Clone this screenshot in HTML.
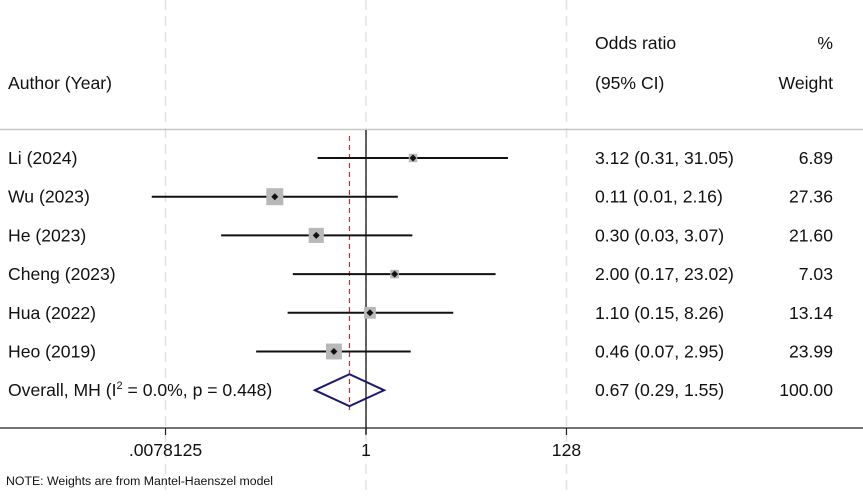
<!DOCTYPE html>
<html><head><meta charset="utf-8"><style>
body{margin:0;background:#fff}
svg text{font-family:"Liberation Sans",Arial,sans-serif;fill:#111}
</style></head><body>
<svg width="863" height="491" id="c">
</svg>
<script>
const authors=["Li (2024)","Wu (2023)","He (2023)","Cheng (2023)","Hua (2022)","Heo (2019)"];
const ors=[3.12,0.11,0.30,2.00,1.10,0.46];
const lows=[0.31,0.0056,0.03,0.17,0.15,0.07];
const highs=[31.05,2.16,3.07,23.02,8.26,2.95];
const ciText=["3.12 (0.31, 31.05)","0.11 (0.01, 2.16)","0.30 (0.03, 3.07)","2.00 (0.17, 23.02)","1.10 (0.15, 8.26)","0.46 (0.07, 2.95)"];
const weights=[6.89,27.36,21.60,7.03,13.14,23.99];
const overall=[0.67,0.29,1.55];
const ticks=[0.0078125,1,128];
const tickLabels=[".0078125","1","128"];
const NS="http://www.w3.org/2000/svg";
const FS=17.6;
const CX=595;
const svg=document.getElementById('c');
const X=v=>366+28.64*Math.log2(v);
const rowY=i=>158+38.7*i;
function el(t,a,txt){const e=document.createElementNS(NS,t);for(const k in a)e.setAttribute(k,a[k]);if(txt!==undefined)e.textContent=txt;svg.appendChild(e);return e;}
ticks.forEach((t,i)=>{const g=el('line',{x1:X(t),x2:X(t),y1:0,y2:491,stroke:'#e2e2e2','stroke-width':1.5,'stroke-dasharray':'10,6'});


const m=el('line',{x1:X(t),x2:X(t),y1:428,y2:435,stroke:'#222','stroke-width':1.2});

});
let l=el('line',{x1:0,x2:863,y1:129.5,y2:129.5,stroke:'#c8c8c8','stroke-width':1.5});

l=el('line',{x1:0,x2:863,y1:428,y2:428,stroke:'#222','stroke-width':1.3});

l=el('line',{x1:X(1),x2:X(1),y1:130,y2:434,stroke:'#111','stroke-width':1.3});

l=el('line',{x1:X(overall[0]),x2:X(overall[0]),y1:136,y2:410,stroke:'#b03838','stroke-width':1.2,'stroke-dasharray':'5,4'});

ticks.forEach((t,i)=>{const e=el('text',{x:X(t),y:456,'font-size':FS,'text-anchor':'middle'},tickLabels[i]);
});
[["Odds ratio",CX,49,'start'],["%",833,49,'end'],["Author (Year)",8,89,'start'],["(95% CI)",CX,89,'start'],["Weight",833,89,'end']].forEach(h=>{
const e=el('text',{x:h[1],y:h[2],'font-size':FS,'text-anchor':h[3]},h[0]);
});
authors.forEach((a,i)=>{
const y=rowY(i);
let e=el('text',{x:8,y:y+6,'font-size':FS},a);

e=el('line',{x1:X(lows[i]),x2:X(highs[i]),y1:y,y2:y,stroke:'#111','stroke-width':2});

const s=17*Math.sqrt(weights[i]/27.36);
e=el('rect',{x:X(ors[i])-s/2,y:y-s/2,width:s,height:s,fill:'#b8b8b8'});

const c=X(ors[i]);
e=el('polygon',{points:`${c-3.5},${y} ${c},${y-3.5} ${c+3.5},${y} ${c},${y+3.5}`,fill:'#111'});

e=el('text',{x:CX,y:y+6,'font-size':FS},ciText[i]);

e=el('text',{x:833,y:y+6,'font-size':FS,'text-anchor':'end'},weights[i].toFixed(2));

});
const oy=rowY(6);
let t=el('text',{x:8,y:oy+6,'font-size':FS});

t.innerHTML='Overall, MH (I<tspan dy="-7" font-size="11">2</tspan><tspan dy="7"> = 0.0%, p = 0.448)</tspan>';
let d=el('polygon',{points:`${X(overall[1])},${oy} ${X(overall[0])},${oy-16} ${X(overall[2])},${oy} ${X(overall[0])},${oy+16}`,fill:'none',stroke:'#1a1a6e','stroke-width':2});

t=el('text',{x:CX,y:oy+6,'font-size':FS},"0.67 (0.29, 1.55)");

t=el('text',{x:833,y:oy+6,'font-size':FS,'text-anchor':'end'},"100.00");

t=el('text',{x:6,y:485,'font-size':12.3},"NOTE: Weights are from Mantel-Haenszel model");

</script>
</body></html>
